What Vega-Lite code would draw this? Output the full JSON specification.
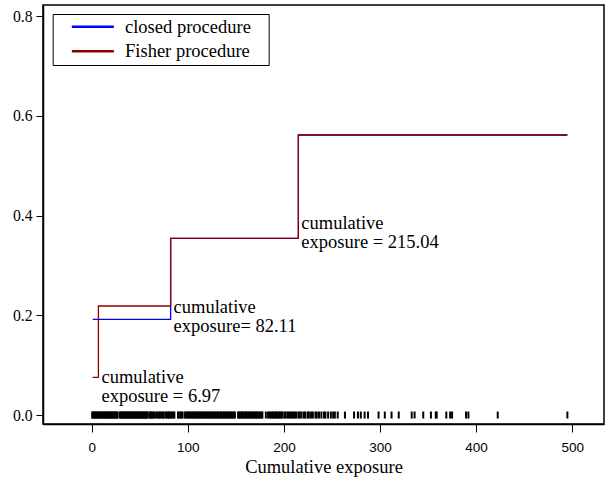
{
  "$schema": "https://vega.github.io/schema/vega-lite/v6.json",
  "width": 561,
  "height": 419,
  "autosize": {"type": "none"},
  "padding": {"left": 43, "top": 5, "right": 5, "bottom": 61},
  "background": "white",
  "config": {
    "view": {"stroke": "black", "strokeWidth": 1.5},
    "axis": {
      "grid": false,
      "domainColor": "black",
      "domainWidth": 1.5,
      "tickColor": "black",
      "tickWidth": 1,
      "labelColor": "black",
      "titleColor": "black"
    }
  },
  "datasets": {
    "steps": [
      {"procedure": "closed procedure", "exposure": 1.0, "prob": 0.192},
      {"procedure": "closed procedure", "exposure": 82.11, "prob": 0.3545},
      {"procedure": "closed procedure", "exposure": 215.04, "prob": 0.5617},
      {"procedure": "closed procedure", "exposure": 495.0, "prob": 0.5617},
      {"procedure": "Fisher procedure", "exposure": 1.0, "prob": 0.0756},
      {"procedure": "Fisher procedure", "exposure": 6.97, "prob": 0.2187},
      {"procedure": "Fisher procedure", "exposure": 82.11, "prob": 0.3545},
      {"procedure": "Fisher procedure", "exposure": 215.04, "prob": 0.5617},
      {"procedure": "Fisher procedure", "exposure": 495.0, "prob": 0.5617}
    ],
    "notes": [
      {"exposure": 6.97, "prob": 0.0648, "note": "cumulative\nexposure = 6.97"},
      {"exposure": 82.11, "prob": 0.204, "note": "cumulative\nexposure= 82.11"},
      {"exposure": 215.04, "prob": 0.3725, "note": "cumulative\nexposure = 215.04"}
    ],
    "events": [
      {"t": 0.5}, {"t": 1.2}, {"t": 2.1}, {"t": 3.0}, {"t": 3.8}, {"t": 4.6}, {"t": 5.5}, {"t": 6.97}, {"t": 7.8}, {"t": 8.6},
      {"t": 9.5}, {"t": 10.4}, {"t": 11.2}, {"t": 12.1}, {"t": 13.0}, {"t": 13.9}, {"t": 14.7}, {"t": 15.6}, {"t": 16.5}, {"t": 17.3},
      {"t": 18.2}, {"t": 19.1}, {"t": 20.0}, {"t": 20.8}, {"t": 21.7}, {"t": 22.6}, {"t": 23.4}, {"t": 24.3}, {"t": 25.2}, {"t": 26.1},
      {"t": 27.0}, {"t": 29.3}, {"t": 30.2}, {"t": 31.1}, {"t": 32.0}, {"t": 32.8}, {"t": 33.7}, {"t": 34.6}, {"t": 35.5}, {"t": 36.3},
      {"t": 37.2}, {"t": 38.1}, {"t": 39.0}, {"t": 39.9}, {"t": 40.7}, {"t": 41.6}, {"t": 42.5}, {"t": 43.4}, {"t": 44.2}, {"t": 45.1},
      {"t": 46.0}, {"t": 46.9}, {"t": 47.8}, {"t": 48.6}, {"t": 49.5}, {"t": 50.4}, {"t": 51.3}, {"t": 52.1}, {"t": 53.0}, {"t": 53.9},
      {"t": 54.8}, {"t": 55.7}, {"t": 56.5}, {"t": 57.4}, {"t": 58.3}, {"t": 60.2}, {"t": 61.1}, {"t": 62.0}, {"t": 63.0}, {"t": 64.4},
      {"t": 65.3}, {"t": 67.1}, {"t": 68.6}, {"t": 70.2}, {"t": 71.0}, {"t": 72.5}, {"t": 74.0}, {"t": 74.9}, {"t": 76.8}, {"t": 77.6},
      {"t": 79.3}, {"t": 80.1}, {"t": 81.0}, {"t": 82.11}, {"t": 83.5}, {"t": 85.0}, {"t": 86.0}, {"t": 89.8}, {"t": 90.7}, {"t": 92.3},
      {"t": 93.2}, {"t": 94.6}, {"t": 97.1}, {"t": 98.0}, {"t": 99.6}, {"t": 100.5}, {"t": 101.4}, {"t": 102.9}, {"t": 103.8}, {"t": 105.2},
      {"t": 106.1}, {"t": 107.0}, {"t": 108.5}, {"t": 109.4}, {"t": 110.8}, {"t": 111.7}, {"t": 113.0}, {"t": 114.2}, {"t": 115.1}, {"t": 116.6},
      {"t": 117.5}, {"t": 118.4}, {"t": 119.9}, {"t": 120.8}, {"t": 122.1}, {"t": 123.0}, {"t": 124.5}, {"t": 125.4}, {"t": 126.3}, {"t": 127.8},
      {"t": 128.7}, {"t": 130.0}, {"t": 131.2}, {"t": 132.1}, {"t": 133.6}, {"t": 134.5}, {"t": 135.4}, {"t": 136.9}, {"t": 137.8}, {"t": 139.1},
      {"t": 140.3}, {"t": 141.2}, {"t": 142.6}, {"t": 143.5}, {"t": 144.9}, {"t": 145.8}, {"t": 146.7}, {"t": 148.1}, {"t": 149.0}, {"t": 152.3},
      {"t": 153.2}, {"t": 154.1}, {"t": 155.5}, {"t": 156.4}, {"t": 157.3}, {"t": 158.8}, {"t": 159.7}, {"t": 161.0}, {"t": 161.9}, {"t": 163.2},
      {"t": 164.1}, {"t": 165.5}, {"t": 166.4}, {"t": 167.8}, {"t": 168.7}, {"t": 169.6}, {"t": 171.0}, {"t": 171.9}, {"t": 173.3}, {"t": 174.2},
      {"t": 175.6}, {"t": 176.5}, {"t": 177.6}, {"t": 181.2}, {"t": 183.5}, {"t": 184.9}, {"t": 186.2}, {"t": 187.6}, {"t": 188.5}, {"t": 189.9},
      {"t": 191.3}, {"t": 192.2}, {"t": 193.6}, {"t": 195.0}, {"t": 195.9}, {"t": 197.3}, {"t": 198.2}, {"t": 200.4}, {"t": 201.8}, {"t": 203.6},
      {"t": 205.0}, {"t": 206.4}, {"t": 208.1}, {"t": 209.5}, {"t": 211.4}, {"t": 212.8}, {"t": 215.04}, {"t": 216.5}, {"t": 218.3}, {"t": 220.7},
      {"t": 222.1}, {"t": 224.6}, {"t": 226.0}, {"t": 228.3}, {"t": 230.1}, {"t": 232.8}, {"t": 234.2}, {"t": 236.5}, {"t": 239.0}, {"t": 241.7},
      {"t": 243.2}, {"t": 246.0}, {"t": 248.9}, {"t": 251.3}, {"t": 253.0}, {"t": 256.0}, {"t": 263.5}, {"t": 273.0}, {"t": 277.0}, {"t": 280.0},
      {"t": 284.0}, {"t": 287.5}, {"t": 298.5}, {"t": 305.0}, {"t": 312.0}, {"t": 319.5}, {"t": 333.0}, {"t": 336.0}, {"t": 345.0}, {"t": 353.0},
      {"t": 358.0}, {"t": 359.0}, {"t": 369.0}, {"t": 373.0}, {"t": 375.0}, {"t": 389.5}, {"t": 392.0}, {"t": 422.5}, {"t": 495.0}
    ]
  },
  "layer": [
    {
      "data": {"name": "events"},
      "mark": {"type": "tick", "orient": "vertical", "color": "black", "size": 7, "thickness": 2, "opacity": 1},
      "encoding": {
        "x": {"field": "t", "type": "quantitative"},
        "y": {"datum": 0, "type": "quantitative"}
      }
    },
    {
      "data": {"name": "steps"},
      "mark": {"type": "line", "interpolate": "step-after", "strokeWidth": 1.3},
      "encoding": {
        "x": {
          "field": "exposure",
          "type": "quantitative",
          "scale": {"domain": [-50.7, 533.1], "nice": false, "zero": false},
          "axis": {
            "values": [0, 100, 200, 300, 400, 500],
            "title": "Cumulative exposure",
            "titleFont": "Liberation Serif",
            "titleFontSize": 18.5,
            "titleFontWeight": "normal",
            "titlePadding": 3,
            "labelFont": "Liberation Sans",
            "labelFontSize": 13.5,
            "labelPadding": 8.5,
            "tickSize": 8
          }
        },
        "y": {
          "field": "prob",
          "type": "quantitative",
          "scale": {"domain": [-0.018, 0.8225], "nice": false, "zero": false},
          "axis": {
            "values": [0, 0.2, 0.4, 0.6, 0.8],
            "format": ".1f",
            "title": null,
            "labelFont": "Liberation Serif",
            "labelFontSize": 15.7,
            "labelPadding": 4,
            "tickSize": 7
          }
        },
        "color": {
          "field": "procedure",
          "type": "nominal",
          "scale": {"domain": ["closed procedure", "Fisher procedure"], "range": ["#0000ff", "#8b0000"]},
          "legend": {
            "title": null,
            "orient": "none",
            "legendX": 9.7,
            "legendY": 9,
            "direction": "vertical",
            "strokeColor": "black",
            "fillColor": "white",
            "padding": 3.5,
            "symbolType": "M-4,0H4",
            "symbolSize": 110.25,
            "symbolStrokeWidth": 2.7,
            "symbolOffset": 27.4,
            "labelOffset": 22.9,
            "labelFont": "Liberation Serif",
            "labelFontSize": 18.5,
            "labelColor": "black",
            "labelExpr": "datum.label + '\u2800'",
            "rowPadding": 5.5
          }
        }
      }
    },
    {
      "data": {"name": "notes"},
      "mark": {"type": "text", "align": "left", "baseline": "alphabetic", "dx": 3, "lineBreak": "\n", "lineHeight": 19, "font": "Liberation Serif", "fontSize": 18.5, "color": "black"},
      "encoding": {
        "x": {"field": "exposure", "type": "quantitative"},
        "y": {"field": "prob", "type": "quantitative"},
        "text": {"field": "note"}
      }
    }
  ]
}
